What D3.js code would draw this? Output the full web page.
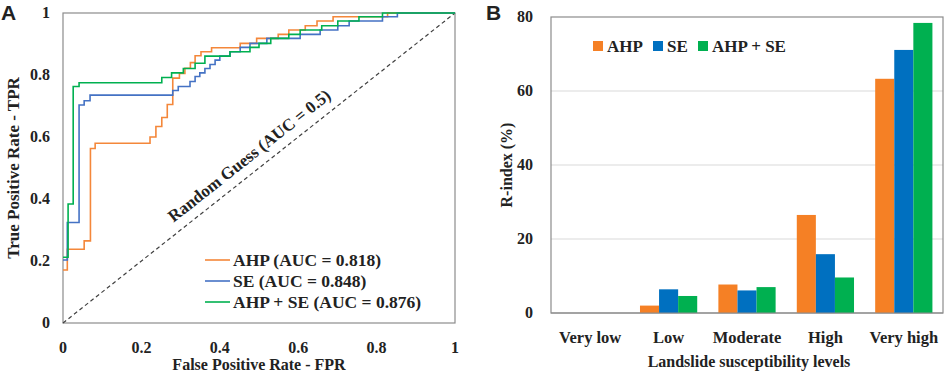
<!DOCTYPE html>
<html>
<head>
    <meta charset="utf-8">
    <title>ROC curves and R-index</title>
    <script src="https://d3js.org/d3.v7.min.js"></script>
    <style>
        body {
            margin: 0;
            background: #fff;
        }
        svg text {
            font-family: "Liberation Serif", "Times New Roman", serif;
            font-weight: bold;
            fill: #222;
        }
        .panel-letter {
            font-family: "Liberation Sans", Arial, sans-serif !important;
            font-size: 21px;
        }
    </style>
</head>
<body>
<svg id="chart" width="948" height="373"></svg>
<script>
    // Panel A: ROC curves, each point = (FPR where TPR steps up, new TPR)
    const ahpFpr = [0, 0.011, 0.054, 0.07, 0.082, 0.222, 0.237, 0.252, 0.266, 0.28, 0.297, 0.311, 0.325, 0.337, 0.352, 0.379, 0.452, 0.494, 0.549, 0.576, 0.618, 0.648, 0.689, 0.828, 1];
    const ahpTpr = [0.171, 0.238, 0.265, 0.563, 0.58, 0.60, 0.634, 0.663, 0.705, 0.79, 0.805, 0.822, 0.84, 0.862, 0.875, 0.888, 0.902, 0.918, 0.931, 0.945, 0.959, 0.974, 0.988, 1, 1];

    const seFpr = [0, 0.011, 0.041, 0.054, 0.069, 0.28, 0.294, 0.324, 0.337, 0.349, 0.362, 0.375, 0.388, 0.40, 0.426, 0.452, 0.477, 0.52, 0.605, 0.656, 0.701, 0.73, 0.815, 0.853, 1];
    const seTpr = [0.203, 0.324, 0.703, 0.717, 0.735, 0.75, 0.763, 0.779, 0.795, 0.807, 0.821, 0.834, 0.848, 0.861, 0.875, 0.889, 0.902, 0.918, 0.931, 0.945, 0.959, 0.974, 0.988, 1, 1];

    const bothFpr = [0, 0.013, 0.026, 0.041, 0.252, 0.277, 0.307, 0.337, 0.362, 0.426, 0.477, 0.5, 0.53, 0.576, 0.605, 0.66, 0.701, 0.755, 0.815, 1];
    const bothTpr = [0.212, 0.384, 0.763, 0.775, 0.792, 0.807, 0.821, 0.838, 0.861, 0.875, 0.889, 0.902, 0.918, 0.931, 0.945, 0.959, 0.974, 0.988, 1, 1];

    const rocTicks = [0, 0.2, 0.4, 0.6, 0.8, 1];
    const rocNames = ["AHP (AUC = 0.818)", "SE (AUC = 0.848)", "AHP + SE (AUC = 0.876)"];

    // Panel B: R-index per susceptibility level
    const levels = ["Very low", "Low", "Moderate", "High", "Very high"];
    const seriesNames = ["AHP", "SE", "AHP + SE"];
    const ahpR = [0, 2.0, 7.7, 26.5, 63.3];
    const seR = [0, 6.4, 6.1, 15.9, 71.1];
    const bothR = [0, 4.6, 7.0, 9.6, 78.4];
    const rTicks = [0, 20, 40, 60, 80];

    const lineColors = ["#F4873A", "#4472C4", "#00B050"];
    const barColors = ["#F58025", "#0070C0", "#00B050"];
    const frameColor = "#8c8c8c";

    const svg = d3.select("#chart");

    // ---------- Panel A ----------
    const a = {left: 63, right: 455, top: 13, bottom: 323};
    const x = d3.scaleLinear().domain([0, 1]).range([a.left, a.right]);
    const y = d3.scaleLinear().domain([0, 1]).range([a.bottom, a.top]);

    svg.append("text").attr("class", "panel-letter")
        .attr("x", 1).attr("y", 20).text("A");

    svg.append("rect")
        .attr("x", a.left).attr("y", a.top)
        .attr("width", a.right - a.left).attr("height", a.bottom - a.top)
        .attr("fill", "none").attr("stroke", frameColor).attr("stroke-width", 1.2);

    // diagonal
    svg.append("line")
        .attr("x1", x(0)).attr("y1", y(0)).attr("x2", x(1)).attr("y2", y(1))
        .attr("stroke", "#404040").attr("stroke-width", 1.2)
        .attr("stroke-dasharray", "4,3");

    const angle = Math.atan2(y(0) - y(1), x(1) - x(0)) * 180 / Math.PI;
    svg.append("text")
        .attr("transform", `translate(${x(0.5)},${y(0.5)}) rotate(${-angle})`)
        .attr("y", -10)
        .attr("text-anchor", "middle")
        .attr("font-size", 17)
        .text("Random Guess (AUC = 0.5)");

    const rocSeries = [
        ahpFpr.map((v, i) => [v, ahpTpr[i]]),
        seFpr.map((v, i) => [v, seTpr[i]]),
        bothFpr.map((v, i) => [v, bothTpr[i]])
    ];
    const rocLine = d3.line()
        .x(d => x(d[0]))
        .y(d => y(d[1]))
        .curve(d3.curveStepAfter);

    rocSeries.forEach((s, i) => {
        svg.append("path")
            .datum(s)
            .attr("d", rocLine)
            .attr("fill", "none")
            .attr("stroke", lineColors[i])
            .attr("stroke-width", 1.6);
    });

    // ticks A
    svg.append("g").selectAll("text").data(rocTicks).join("text")
        .attr("x", d => x(d)).attr("y", 353)
        .attr("text-anchor", "middle").attr("font-size", 16)
        .text(d => d === 0 || d === 1 ? d : d.toFixed(1));
    svg.append("g").selectAll("text").data(rocTicks).join("text")
        .attr("x", 50).attr("y", d => y(d) + 5)
        .attr("text-anchor", "end").attr("font-size", 16)
        .text(d => d === 0 || d === 1 ? d : d.toFixed(1));

    svg.append("text")
        .attr("x", x(0.5)).attr("y", 370)
        .attr("text-anchor", "middle").attr("font-size", 16)
        .text("False Positive Rate - FPR");
    svg.append("text")
        .attr("transform", `translate(19,${y(0.5)}) rotate(-90)`)
        .attr("text-anchor", "middle").attr("font-size", 17)
        .text("True Positive Rate - TPR");

    // legend A
    const legA = svg.append("g").attr("transform", "translate(205,260)");
    rocNames.forEach((name, i) => {
        const row = legA.append("g").attr("transform", `translate(0,${i * 21})`);
        row.append("line").attr("x1", 0).attr("x2", 25).attr("y1", 0).attr("y2", 0)
            .attr("stroke", lineColors[i]).attr("stroke-width", 1.6);
        row.append("text").attr("x", 28).attr("y", 6)
            .attr("font-size", 17.5).text(name);
    });

    // ---------- Panel B ----------
    const b = {left: 551, right: 943, top: 17, bottom: 313};
    const xb = d3.scaleBand().domain(levels).range([b.left, b.right]).paddingInner(0.27).paddingOuter(0.135);
    const xs = d3.scaleBand().domain(seriesNames).range([0, xb.bandwidth()]);
    const yb = d3.scaleLinear().domain([0, 80]).range([b.bottom, b.top]);

    svg.append("text").attr("class", "panel-letter")
        .attr("x", 486).attr("y", 20).text("B");

    svg.append("g").selectAll("line").data(rTicks.filter(d => d > 0 && d < 80)).join("line")
        .attr("x1", b.left).attr("x2", b.right)
        .attr("y1", d => yb(d)).attr("y2", d => yb(d))
        .attr("stroke", "#d9d9d9").attr("stroke-width", 1);

    svg.append("rect")
        .attr("x", b.left).attr("y", b.top)
        .attr("width", b.right - b.left).attr("height", b.bottom - b.top)
        .attr("fill", "none").attr("stroke", frameColor).attr("stroke-width", 1.2);

    const rSeries = [ahpR, seR, bothR];
    rSeries.forEach((vals, si) => {
        svg.append("g").selectAll("rect").data(vals).join("rect")
            .attr("x", (d, i) => xb(levels[i]) + xs(seriesNames[si]))
            .attr("width", xs.bandwidth())
            .attr("y", d => yb(d))
            .attr("height", d => yb(0) - yb(d))
            .attr("fill", barColors[si]);
    });

    // axis line on top of bars
    svg.append("line")
        .attr("x1", b.left).attr("x2", b.right)
        .attr("y1", b.bottom).attr("y2", b.bottom)
        .attr("stroke", frameColor).attr("stroke-width", 1.2);

    svg.append("g").selectAll("text").data(rTicks).join("text")
        .attr("x", 533).attr("y", d => yb(d) + 5)
        .attr("text-anchor", "end").attr("font-size", 16)
        .text(d => d);

    svg.append("g").selectAll("text").data(levels).join("text")
        .attr("x", d => xb(d) + xb.bandwidth() / 2).attr("y", 343)
        .attr("text-anchor", "middle").attr("font-size", 16.5)
        .text(d => d);

    svg.append("text")
        .attr("x", (b.left + b.right) / 2 + 2).attr("y", 367)
        .attr("text-anchor", "middle").attr("font-size", 16)
        .text("Landslide susceptibility levels");
    svg.append("text")
        .attr("transform", `translate(512,${(b.top + b.bottom) / 2}) rotate(-90)`)
        .attr("text-anchor", "middle").attr("font-size", 16)
        .text("R-index (%)");

    // legend B
    const legB = svg.append("g").attr("transform", "translate(593,46)");
    const legOffsets = [0, 60, 105];
    seriesNames.forEach((name, i) => {
        const g = legB.append("g").attr("transform", `translate(${legOffsets[i]},0)`);
        g.append("rect").attr("x", 0).attr("y", -5).attr("width", 10).attr("height", 10)
            .attr("fill", barColors[i]);
        g.append("text").attr("x", 14).attr("y", 6).attr("font-size", 17).text(name);
    });
</script>
</body>
</html>
